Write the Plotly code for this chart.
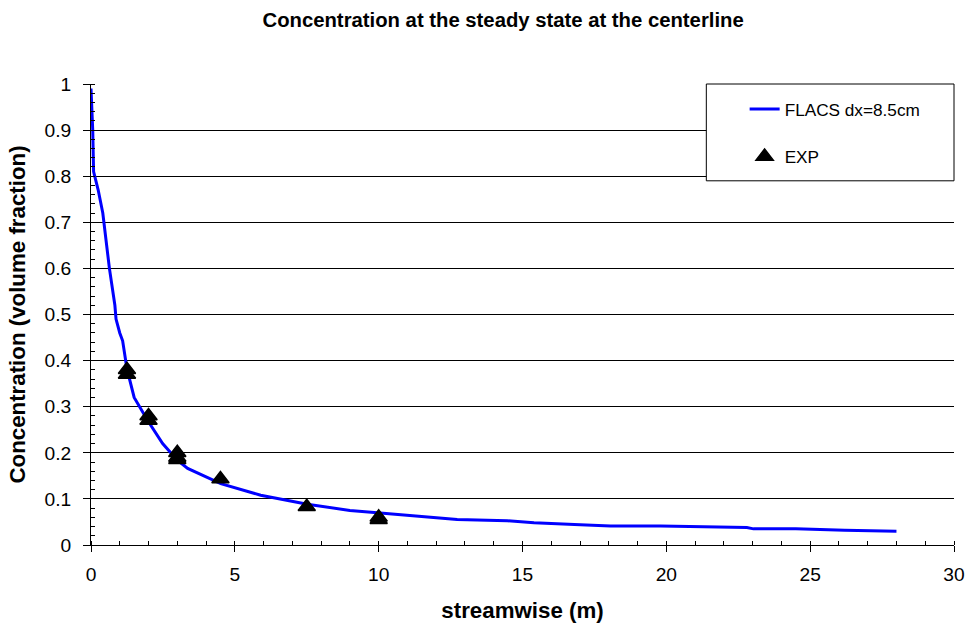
import plotly.graph_objects as go

# FLACS simulation curve
flacs_x = [0, 0.03, 0.06, 0.09, 0.25, 0.41, 0.64, 0.83, 0.87, 1.0, 1.1, 1.25, 1.5, 1.97, 2.49,
           3.0, 3.36, 4.51, 5.9, 7.52, 9.0, 9.95, 10.76, 12.73, 14.47, 15.4, 16.8, 18.06, 19.8,
           21.2, 22.8, 23.03, 24.5, 26.2, 28.0]
flacs_y = [0.99, 0.95, 0.9, 0.81, 0.77, 0.72, 0.6, 0.52, 0.49, 0.46, 0.443, 0.382, 0.32, 0.27, 0.22,
           0.184, 0.166, 0.133, 0.108, 0.0886, 0.075, 0.07, 0.066, 0.0555, 0.0525, 0.048, 0.0447, 0.041, 0.041,
           0.0396, 0.038, 0.035, 0.035, 0.032, 0.03]

# Experimental points
exp_x = [1.25, 1.25, 2.0, 2.0, 3.0, 3.0, 3.0, 4.5, 7.5, 10.0, 10.0]
exp_y = [0.38, 0.37, 0.28, 0.27, 0.2, 0.19, 0.185, 0.143, 0.083, 0.06, 0.055]

FONT = "Liberation Sans, Arial, sans-serif"

fig = go.Figure()
fig.add_trace(go.Scatter(x=flacs_x, y=flacs_y, mode="lines", name="FLACS dx=8.5cm",
                         line=dict(color="#0000FF", width=3), legendgroup="a"))
fig.add_trace(go.Scatter(x=exp_x, y=exp_y, mode="markers", name="EXP", legendgroup="b",
                         marker=dict(symbol="triangle-up", size=15, color="black",
                                     line=dict(color="black", width=1.5))))

fig.update_layout(
    width=976, height=630,
    margin=dict(l=91, r=11, t=84, b=79),
    paper_bgcolor="white", plot_bgcolor="white",
    font=dict(family=FONT, size=19, color="black"),
    title=dict(text="Concentration at the steady state at the centerline",
               font=dict(family=FONT, size=20.3, weight="bold"),
               x=0.5155, xanchor="center", y=0.968, yanchor="middle"),
    showlegend=True,
    legend=dict(x=0.7574, xanchor="left", y=0.984, yanchor="top",
                bgcolor="rgba(0,0,0,0)", borderwidth=0,
                font=dict(family=FONT, size=17.2), tracegroupgap=22,
                traceorder="grouped"),
    xaxis=dict(range=[0, 30], dtick=5, tick0=0, showgrid=False, zeroline=False,
               showline=True, linecolor="black", linewidth=1,
               ticks="outside", ticklen=6, tickcolor="black", ticklabelstandoff=6,
               minor=dict(dtick=1, ticks="inside", ticklen=4, tickcolor="black", showgrid=False),
               tickfont=dict(size=19.2),
               title=dict(text="streamwise (m)", font=dict(size=22.3, weight="bold"), standoff=18)),
    yaxis=dict(range=[0, 1], dtick=0.1, tick0=0, showgrid=True, gridcolor="black", gridwidth=1,
               zeroline=False, showline=True, linecolor="black", linewidth=1,
               ticks="outside", ticklen=7, tickcolor="black", ticklabelstandoff=8,
               minor=dict(dtick=0.02, ticks="inside", ticklen=4, tickcolor="black", showgrid=False),
               tickfont=dict(size=19.2),
               title=dict(text="Concentration (volume fraction)", font=dict(size=22.3, weight="bold"), standoff=12)),
)

fig.add_shape(type="rect", xref="paper", yref="paper", x0=0.713, x1=1.0, y0=0.79, y1=1.0,
              line=dict(color="black", width=1), fillcolor="white", layer="above")

post = ("document.body.style.margin='0';"
        "document.body.style.overflow='hidden';"
        "document.documentElement.style.overflow='hidden';"
        "var d=document.querySelector('.plotly-graph-div');"
        "d.style.position='absolute';d.style.left='0px';d.style.top='0px';")

fig.write_html("out.html", config={"displayModeBar": False}, post_script=post)
